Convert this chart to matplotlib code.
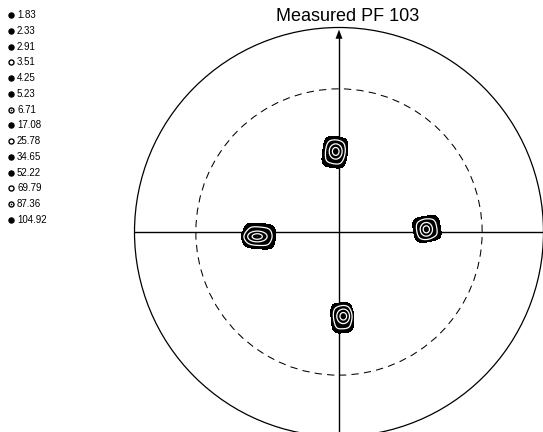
import numpy as np
import matplotlib
matplotlib.use("Agg")
import matplotlib.pyplot as plt
from matplotlib.patches import Circle, FancyArrow

plt.rcParams['font.family'] = ['Liberation Sans', 'DejaVu Sans']

# Contour levels (multiples of random density) and their legend symbols
levels = [1.83, 2.33, 2.91, 3.51, 4.25, 5.23, 6.71, 17.08, 25.78,
          34.65, 52.22, 69.79, 87.36, 104.92]
symbols = ['filled', 'filled', 'filled', 'open', 'filled', 'filled', 'dotted',
           'filled', 'open', 'filled', 'filled', 'open', 'dotted', 'filled']

# Pole clusters (projection units, unit circle = 90 deg tilt)
pole_x = [-0.020, -0.390, 0.430, 0.015]
pole_y = [0.390, -0.020, 0.015, -0.420]
pole_ax = [0.052, 0.068, 0.058, 0.046]     # half width of the cluster
pole_ay = [0.066, 0.054, 0.054, 0.064]     # half height of the cluster
pole_rot = [-8.0, -5.0, 10.0, 5.0]         # orientation, degrees
base_h = [10.0, 10.0, 10.0, 10.0]          # cluster background density
peak_dx = [0.004, -0.010, -0.003, 0.006]   # sharp maximum offset
peak_dy = [0.004, -0.002, -0.002, 0.008]
peak_sx = [0.017, 0.026, 0.016, 0.017]
peak_sy = [0.020, 0.014, 0.018, 0.019]
peak_h = [95.0, 95.0, 95.0, 95.0]

title = "Measured PF 103"

W, H, DPI = 543, 432, 100
cx_px, cy_px, rad_px = 339.0, 232.0, 204.5

fig = plt.figure(figsize=(W / DPI, H / DPI), dpi=DPI)
ax = fig.add_axes([0, 0, 1, 1])
ax.set_xlim(-cx_px / rad_px, (W - cx_px) / rad_px)
ax.set_ylim(-(H - cy_px) / rad_px, cy_px / rad_px)
ax.axis('off')

# Projection circles
ax.add_patch(Circle((0, 0), 1.0, fill=False, ec='black', lw=0.9))
ax.add_patch(Circle((0, 0), 0.70, fill=False, ec='black', lw=0.75,
                    ls=(0, (7, 5))))

# Sample reference axes
ax.plot([-1.0, 1.0], [0, 0], color='black', lw=1.0)
ax.plot([0, 0], [-1.2, 0.96], color='black', lw=1.0)
ax.add_patch(FancyArrow(0, 0.945, 0, 0.0, width=0, head_width=0.034,
                        head_length=0.045, length_includes_head=False,
                        color='black', lw=0))

# Density field
g = np.linspace(-0.6, 0.6, 481)
X, Y = np.meshgrid(g, g)
Z = np.zeros_like(X)
for i in range(len(pole_x)):
    t = np.radians(pole_rot[i])
    dx, dy = X - pole_x[i], Y - pole_y[i]
    u = (dx * np.cos(t) + dy * np.sin(t)) / pole_ax[i]
    v = (-dx * np.sin(t) + dy * np.cos(t)) / pole_ay[i]
    Z += base_h[i] * np.exp(-(np.abs(u) ** 4 + np.abs(v) ** 4))
    qx = X - pole_x[i] - peak_dx[i]
    qy = Y - pole_y[i] - peak_dy[i]
    Z += peak_h[i] * np.exp(-0.5 * ((qx / peak_sx[i]) ** 2 + (qy / peak_sy[i]) ** 2))

ax.contourf(X, Y, Z, levels=[levels[0], 1e6], colors=['black'])
ax.contour(X, Y, Z, levels=[levels[6], levels[8], levels[11]],
           colors='white', linewidths=0.9)
ax.contour(X, Y, Z, levels=[levels[13]], colors='white', linewidths=0.6)

# Legend of contour levels
y0_px, dy_px = 15.0, 15.76
for i, (lv, sym) in enumerate(zip(levels, symbols)):
    ypx = y0_px + i * dy_px
    yd = (cy_px - ypx) / rad_px
    xm = (10.5 - cx_px) / rad_px
    xt = (17.0 - cx_px) / rad_px
    if sym == 'filled':
        ax.plot(xm, yd, 'o', ms=3.8, mfc='black', mec='black', mew=0.8)
    elif sym == 'open':
        ax.plot(xm, yd, 'o', ms=3.6, mfc='white', mec='black', mew=1.0)
    else:
        ax.plot(xm, yd, 'o', ms=3.6, mfc='white', mec='black', mew=1.0)
        ax.plot(xm, yd, 'o', ms=1.2, mfc='black', mec='black', mew=0)
    ax.text(xt, yd, f"{lv:.2f}", fontsize=7, va='center', ha='left')

# Title
ax.text((348 - cx_px) / rad_px, (cy_px - 16.5) / rad_px, title,
        fontsize=13, ha='center', va='center')

fig.savefig("out.png", dpi=DPI)
